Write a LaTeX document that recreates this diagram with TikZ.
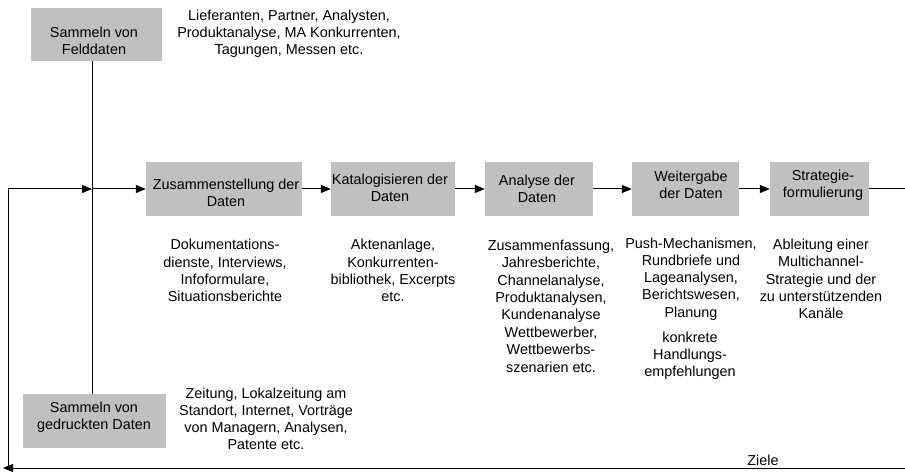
\documentclass[tikz,border=0pt]{standalone}
\usepackage{fontspec}
\setmainfont{Liberation Sans}
\usetikzlibrary{arrows.meta}
\begin{document}
\begin{tikzpicture}[x=1pt,y=-1pt,
  every node/.style={font=\fontsize{14.4}{17.2}\selectfont, align=center, inner sep=0pt},
  graybox/.style={fill=boxgray, draw=none, minimum height=54pt},
  conn/.style={line width=1pt, black},
  arr/.style={conn, -{Triangle[length=10pt,width=8pt]}},
  desc/.style={text=black}
]
\definecolor{boxgray}{HTML}{C0C0C0}
\useasboundingbox (0,0) rectangle (905,473);

% boxes
\node[graybox, minimum width=131pt, minimum height=53pt] (feld) at (96.5,34.5) {};
\node[graybox, minimum width=143pt] (ged) at (94.5,421) {};
\node[graybox, minimum width=156pt] (zus) at (224,189) {};
\node[graybox, minimum width=124pt] (kat) at (393,189) {};
\node[graybox, minimum width=108pt] (ana) at (539,189) {};
\node[graybox, minimum width=107pt] (wei) at (685.5,189) {};
\node[graybox, minimum width=99pt] (str) at (819.5,189) {};

% box texts
\node (tfeld) at (94,40.5) {Sammeln von\\Felddaten};
\node (tged) at (94,417.5) {Sammeln von\\gedruckten Daten};
\node (tzus) at (226,193) {Zusammenstellung der\\Daten};
\node (tkat) at (390,187.5) {Katalogisieren der\\Daten};
\node (tana) at (537,188.5) {Analyse der\\Daten};
\node (twei) at (691,185) {Weitergabe\\der Daten};
\node (tstr) at (823,185) {Strategie-\\formulierung};

% descriptions
\node[desc] (dfeld) at (289,34) {Lieferanten, Partner, Analysten,\\Produktanalyse, MA Konkurrenten,\\Tagungen, Messen etc.};
\node[desc] (dged) at (266,419) {Zeitung, Lokalzeitung am\\Standort, Internet, Vorträge\\von Managern, Analysen,\\Patente etc.};
\node[desc] (dzus) at (225,270.5) {Dokumentations-\\dienste, Interviews,\\Infoformulare,\\Situationsberichte};
\node[desc] (dkat) at (393,270.5) {Aktenanlage,\\Konkurrenten-\\bibliothek, Excerpts\\etc.};
\node[desc, font=\fontsize{14.4}{17.4}\selectfont] (dana) at (551,306) {Zusammenfassung,\\Jahresberichte,\\Channelanalyse,\\Produktanalysen,\\Kundenanalyse\\Wettbewerber,\\Wettbewerbs-\\szenarien etc.};
\node[desc] (dwei) at (691,279) {Push-Mechanismen,\\Rundbriefe und\\Lageanalysen,\\Berichtswesen,\\Planung};
\node[desc] (dwei2) at (690,356) {konkrete\\Handlungs-\\empfehlungen};
\node[desc] (dstr) at (821,279) {Ableitung einer\\Multichannel-\\Strategie und der\\zu unterstützenden\\Kanäle};
\node[desc] (ziele) at (763,460) {Ziele};

% coordinates
\coordinate (J) at (92,189);
\coordinate (R) at (905,189);
\coordinate (BR) at (905,468);
\coordinate (BL) at (3,468);
\coordinate (VL) at (8,466);

% connectors
\draw[conn] (feld.south -| J) -- (ged.north -| J);
\draw[arr] (VL) |- (J);
\draw[arr] (J) -- (zus.west);
\draw[arr] (zus.east) -- (kat.west);
\draw[arr] (kat.east) -- (ana.west);
\draw[arr] (ana.east) -- (wei.west);
\draw[arr] (wei.east) -- (str.west);
\draw[conn] (str.east) -- (R);
\draw[arr] (BR) -- (BL);
\end{tikzpicture}
\end{document}
